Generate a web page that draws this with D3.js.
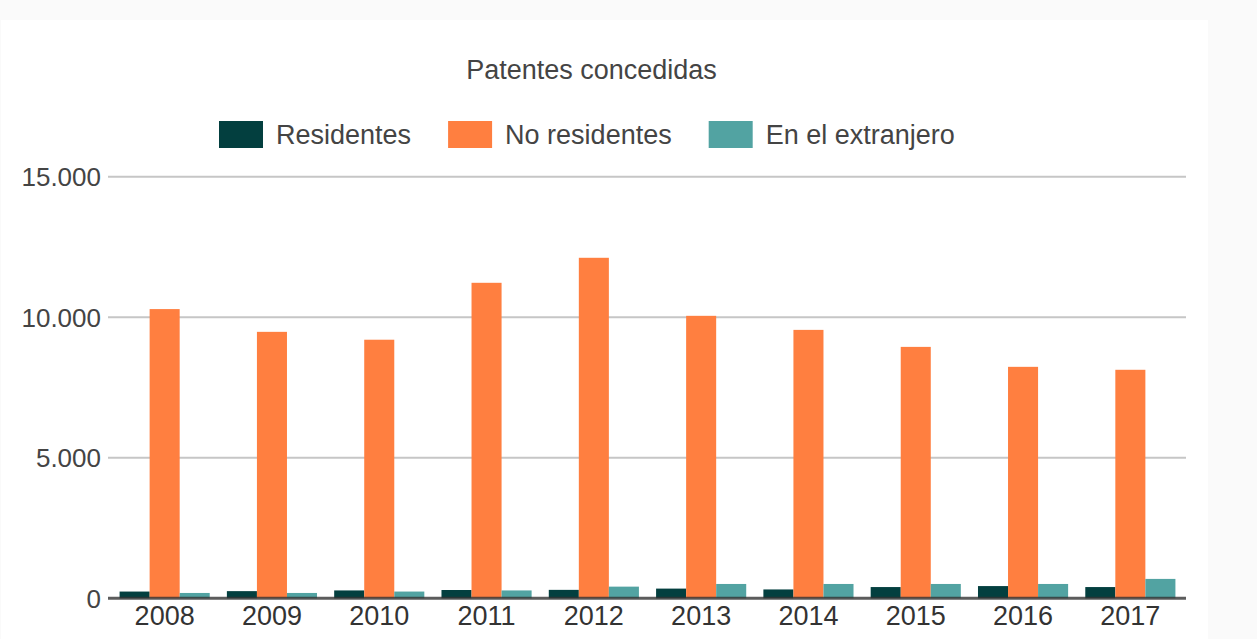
<!DOCTYPE html>
<html>
<head>
<meta charset="utf-8">
<script src="https://cdn.jsdelivr.net/npm/d3@7"></script>
<style>
  html, body { margin: 0; padding: 0; background: #fafafa; }
  svg { display: block; }
  text { font-family: "Liberation Sans", Arial, sans-serif; }
</style>
</head>
<body>
<svg id="chart" width="1257" height="639"></svg>
<script>
const years = ["2008","2009","2010","2011","2012","2013","2014","2015","2016","2017"];
const seriesNames = ["Residentes", "No residentes", "En el extranjero"];
const residentes   = [240, 255, 280, 295, 300, 345, 315, 400, 435, 400];
const noResidentes = [10290, 9480, 9200, 11225, 12115, 10050, 9550, 8945, 8235, 8130];
const extranjero   = [190, 190, 240, 280, 415, 510, 510, 510, 510, 690];
const yTicks = [0, 5000, 10000, 15000];
const yTickLabels = ["0", "5.000", "10.000", "15.000"];
const colors = ["#033f3f", "#ff7f40", "#52a3a2"];
const title = "Patentes concedidas";

const seriesValues = [residentes, noResidentes, extranjero];

const svg = d3.select("#chart");

// white panel
svg.append("rect").attr("x", 1).attr("y", 20).attr("width", 1207).attr("height", 619).attr("fill", "#ffffff");

const plotLeft = 108, plotRight = 1186;
const y = d3.scaleLinear().domain([0, 15000]).range([598.3, 176.7]);
const x0 = d3.scaleBand().domain(years).range([111, 1184]).paddingInner(0.16).paddingOuter(0.08);
const x1 = d3.scaleBand().domain(seriesNames).range([0, x0.bandwidth()]).padding(0);

// gridlines
svg.append("g").selectAll("line").data(yTicks.filter(t => t !== 0)).join("line")
  .attr("x1", plotLeft).attr("x2", plotRight)
  .attr("y1", d => y(d)).attr("y2", d => y(d))
  .attr("stroke", "#c6c6c6").attr("stroke-width", 2);

// y labels
svg.append("g").selectAll("text").data(yTicks).join("text")
  .attr("x", 101).attr("y", d => y(d) + 9.5)
  .attr("text-anchor", "end")
  .attr("font-size", 26).attr("fill", "#444")
  .text((d, i) => yTickLabels[i]);

// bars
const groups = svg.append("g").selectAll("g").data(years).join("g")
  .attr("transform", d => `translate(${x0(d)},0)`);
groups.selectAll("rect")
  .data((d, i) => seriesNames.map((s, j) => ({ s, j, v: seriesValues[j][i] })))
  .join("rect")
  .attr("x", d => x1(d.s))
  .attr("width", x1.bandwidth())
  .attr("y", d => y(d.v))
  .attr("height", d => y(0) - y(d.v))
  .attr("fill", d => colors[d.j]);

// baseline
svg.append("line")
  .attr("x1", plotLeft).attr("x2", plotRight)
  .attr("y1", y(0)).attr("y2", y(0))
  .attr("stroke", "#333").attr("stroke-opacity", 0.8).attr("stroke-width", 3);

// x labels
svg.append("g").selectAll("text").data(years).join("text")
  .attr("x", d => x0(d) + x0.bandwidth() / 2)
  .attr("y", 625)
  .attr("text-anchor", "middle")
  .attr("font-size", 27).attr("fill", "#333")
  .text(d => d);

// title
svg.append("text")
  .attr("x", 591.5).attr("y", 79)
  .attr("text-anchor", "middle")
  .attr("font-size", 27).attr("fill", "#444")
  .text(title);

// legend
const legend = svg.append("g");
let lx = 219;
seriesNames.forEach((name, i) => {
  legend.append("rect").attr("x", lx).attr("y", 121).attr("width", 44).attr("height", 27).attr("fill", colors[i]);
  const t = legend.append("text").attr("x", lx + 57).attr("y", 143.5)
    .attr("font-size", 27).attr("fill", "#444").text(name);
  const w = t.node().getComputedTextLength();
  lx = lx + 57 + w + 37;
});
</script>
</body>
</html>
